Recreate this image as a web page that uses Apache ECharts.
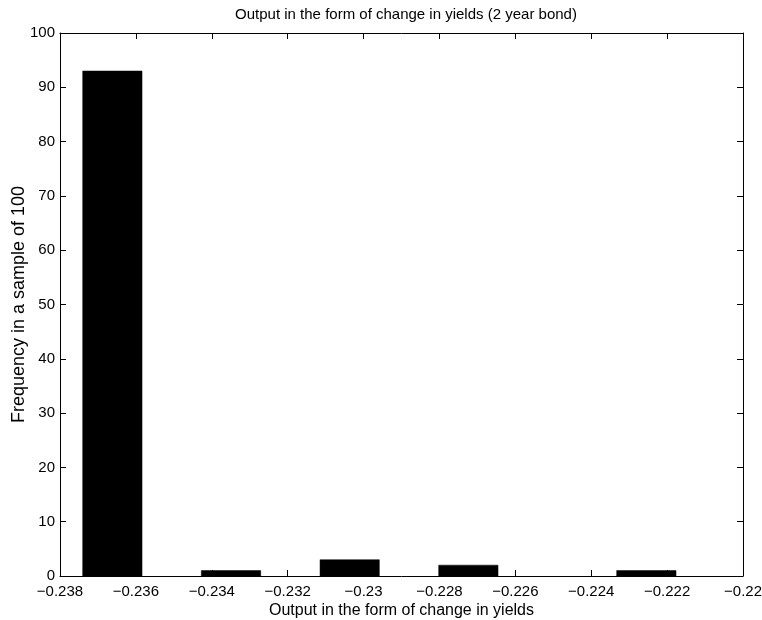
<!DOCTYPE html>
<html>
<head>
<meta charset="utf-8">
<title>Output in the form of change in yields (2 year bond)</title>
<script src="https://cdn.jsdelivr.net/npm/echarts@6/dist/echarts.min.js"></script>
<style>
  html, body { margin: 0; padding: 0; background: #fff; }
  #chart { width: 762px; height: 620px; }
</style>
</head>
<body>
<div id="chart"></div>
<script>
// Histogram bins (10 equal-width bins) and the count in each
const binEdges = [
  -0.237402, -0.235838, -0.234275, -0.232711, -0.231147, -0.229584,
  -0.228020, -0.226456, -0.224892, -0.223329, -0.221765
];
const binCounts = [93, 0, 1, 0, 3, 0, 2, 0, 0, 1];

// Axis ranges and tick spacing
const xTicks = { min: -0.238, max: -0.22, interval: 0.002 };
const yTicks = { min: 0, max: 100, interval: 10 };

const titleText = 'Output in the form of change in yields (2 year bond)';
const xName = 'Output in the form of change in yields';
const yName = 'Frequency in a sample of 100';

const FONT = '"Liberation Sans", Arial, Helvetica, sans-serif';

const bars = binCounts.map((c, i) => [binEdges[i], binEdges[i + 1], c]);

// tick text with a true minus sign and no trailing zeros
const fmtX = v => (+v.toFixed(3)).toString().replace('-', '\u2212');

const lineStyle = { color: '#000', width: 1 };

const chart = echarts.init(document.getElementById('chart'), null, { renderer: 'canvas' });

chart.setOption({
  backgroundColor: '#fff',
  animation: false,
  title: {
    text: titleText,
    left: 401,
    textAlign: 'center',
    top: 2,
    textStyle: { fontFamily: FONT, fontSize: 15, fontWeight: 'normal', color: '#000' }
  },
  grid: { left: 60, right: 19, top: 33, bottom: 44, outerBoundsMode: 'none', containLabel: false },
  xAxis: [
    {
      type: 'value', position: 'bottom',
      min: xTicks.min, max: xTicks.max, interval: xTicks.interval,
      name: xName, nameLocation: 'middle', nameGap: 27, nameMoveOverlap: false,
      nameTextStyle: { fontFamily: FONT, fontSize: 16, color: '#000' },
      axisLine: { show: true, onZero: false, lineStyle },
      axisTick: { show: true, inside: true, length: 6, lineStyle },
      axisLabel: { fontFamily: FONT, fontSize: 15, color: '#000', margin: 8, formatter: fmtX },
      splitLine: { show: false }
    },
    {
      type: 'value', position: 'top',
      min: xTicks.min, max: xTicks.max, interval: xTicks.interval,
      axisLine: { show: true, onZero: false, lineStyle },
      axisTick: { show: true, inside: true, length: 6, lineStyle },
      axisLabel: { show: false },
      splitLine: { show: false }
    }
  ],
  yAxis: [
    {
      type: 'value', position: 'left',
      min: yTicks.min, max: yTicks.max, interval: yTicks.interval,
      name: yName, nameLocation: 'middle', nameGap: 32, nameMoveOverlap: false,
      nameTextStyle: { fontFamily: FONT, fontSize: 18, color: '#000' },
      axisLine: { show: true, onZero: false, lineStyle },
      axisTick: { show: true, inside: true, length: 6, lineStyle },
      axisLabel: { fontFamily: FONT, fontSize: 15, color: '#000', margin: 5 },
      splitLine: { show: false }
    },
    {
      type: 'value', position: 'right',
      min: yTicks.min, max: yTicks.max, interval: yTicks.interval,
      axisLine: { show: true, onZero: false, lineStyle },
      axisTick: { show: true, inside: true, length: 6, lineStyle },
      axisLabel: { show: false },
      splitLine: { show: false }
    }
  ],
  series: [
    {
      type: 'custom',
      xAxisIndex: 0,
      yAxisIndex: 0,
      data: bars,
      encode: { x: [0, 1], y: 2 },
      renderItem: (params, api) => {
        const count = api.value(2);
        if (!count) return null;
        const p0 = api.coord([api.value(0), 0]);
        const p1 = api.coord([api.value(1), count]);
        return {
          type: 'rect',
          shape: { x: p0[0], y: p1[1], width: p1[0] - p0[0], height: p0[1] - p1[1] },
          style: { fill: '#000', stroke: '#000', lineWidth: 0.5 }
        };
      }
    }
  ]
});
</script>
</body>
</html>
